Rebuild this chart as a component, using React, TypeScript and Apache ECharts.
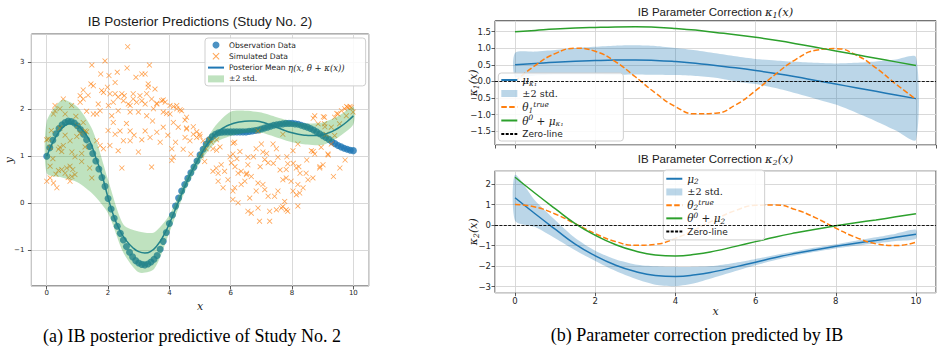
import React, { useEffect, useRef } from 'react';
import * as echarts from 'echarts';

// ---------- (a) Study No. 2 : observations, simulations, posterior ----------
const obsStep = 0.1;
const obsY = [
  1.0, 1.18, 1.34, 1.48, 1.59, 1.67, 1.72, 1.75, 1.74, 1.71,
  1.65, 1.57, 1.47, 1.35, 1.21, 1.06, 0.9, 0.73, 0.55, 0.36,
  0.1, -0.12, -0.32, -0.49, -0.64, -0.78, -0.92, -1.04, -1.14, -1.22,
  -1.27, -1.3, -1.31, -1.29, -1.25, -1.19, -1.11, -0.98, -0.81, -0.62,
  -0.43, -0.25, -0.06, 0.11, 0.26, 0.4, 0.53, 0.65, 0.77, 0.9,
  1.03, 1.15, 1.26, 1.35, 1.42, 1.47, 1.5, 1.51, 1.52, 1.52,
  1.52, 1.52, 1.52, 1.52, 1.52, 1.52, 1.53, 1.54, 1.55, 1.56,
  1.58, 1.6, 1.62, 1.64, 1.66, 1.67, 1.68, 1.69, 1.7, 1.7,
  1.7, 1.69, 1.68, 1.66, 1.64, 1.62, 1.59, 1.56, 1.52, 1.48,
  1.44, 1.4, 1.36, 1.31, 1.27, 1.23, 1.2, 1.17, 1.15, 1.13,
  1.12,
];

const simPoints: [number, number][] = [
  [2.64, 3.33], [1.9, 3.03], [1.47, 2.94], [2.62, 2.88], [3.35, 2.94], [1.76, 2.75], [2.03, 2.72],
  [2.3, 2.79], [2.91, 2.68], [3.1, 2.75], [3.21, 2.75], [1.44, 2.54], [1.52, 2.5], [2.23, 2.57],
  [1.98, 2.47], [3.31, 2.54], [3.31, 2.47], [1.19, 2.41], [1.09, 2.29], [1.19, 2.22], [1.79, 2.4],
  [1.85, 2.36], [2.06, 2.33], [2.23, 2.33], [2.45, 2.33], [2.33, 2.26], [2.53, 2.29], [2.82, 2.33],
  [3.04, 2.29], [3.26, 2.33], [3.53, 2.43], [2.82, 2.22], [2.5, 2.18], [2.66, 2.11], [2.72, 2.08],
  [2.93, 2.15], [3.1, 2.18], [3.21, 2.11], [3.42, 2.22], [3.59, 2.11], [3.75, 2.18], [3.86, 2.15],
  [4.02, 2.08], [4.24, 2.08], [2.17, 2.15], [2.01, 2.08], [1.68, 2.11], [1.74, 1.97], [1.52, 1.9],
  [1.63, 1.9], [1.3, 1.96], [1.09, 2.15], [0.81, 2.08], [0.27, 2.08], [0.22, 1.9], [0.54, 2.22],
  [2.33, 1.97], [2.12, 1.86], [2.72, 1.94], [2.99, 1.94], [3.26, 1.86], [3.48, 2.01], [3.8, 1.94],
  [4.02, 1.9], [4.24, 2.01], [4.4, 1.97], [4.56, 1.83], [2.17, 1.72], [2.39, 1.54], [2.23, 1.47],
  [2.72, 1.54], [3.21, 1.54], [3.59, 1.51], [3.37, 1.4], [3.8, 1.62], [4.13, 1.72], [4.29, 1.62],
  [4.56, 1.58], [4.78, 1.47], [4.89, 1.4], [4.51, 1.4], [4.67, 1.33], [1.63, 1.33], [1.74, 1.23],
  [1.85, 1.16], [2.06, 1.23], [2.33, 1.12], [2.5, 1.33], [2.99, 1.09], [2.72, 1.33], [4.08, 1.16],
  [4.13, 0.98], [1.19, 1.72], [1.25, 1.54], [0.05, 1.37], [0.11, 1.19], [0.43, 1.19], [0.54, 1.23],
  [0.76, 1.33], [0.82, 1.09], [0.27, 1.97], [0.43, 2.01],
  [0.0, 0.47], [0.11, 0.54], [0.22, 0.43], [0.33, 0.33], [0.49, 0.72], [0.65, 0.75], [0.76, 0.79],
  [0.82, 0.57], [0.76, 0.47], [0.92, 0.61], [0.6, 0.64], [0.11, 0.79], [1.47, 0.54], [2.45, 0.75],
  [3.42, 0.77], [4.08, 0.91], [1.14, 0.89],
  [0.0, 1.35], [0.43, 1.6], [0.6, 1.45], [0.98, 1.42], [0.49, 1.1], [0.38, 1.15], [0.92, 0.99],
  [1.09, 1.49], [1.3, 1.52], [1.25, 1.2], [1.14, 1.06],
  [3.59, 2.13], [3.8, 2.2], [3.91, 1.91], [4.13, 2.06], [4.35, 1.99], [4.51, 1.77], [4.56, 1.6],
  [4.78, 1.63], [4.89, 1.52], [5.0, 1.42], [5.32, 1.35], [5.54, 1.35], [6.08, 1.28], [6.3, 1.1],
  [5.54, 1.13], [8.69, 1.81], [9.02, 1.84], [9.07, 1.63], [9.46, 1.91], [9.78, 2.06], [9.89, 2.06],
  [4.99, 1.47], [5.1, 1.33], [5.2, 1.16], [5.04, 1.01], [5.37, 1.3], [5.42, 1.16], [6.13, 1.3],
  [6.07, 1.05], [6.83, 1.16], [7.0, 1.26], [7.05, 1.09], [7.38, 1.26], [7.49, 1.16], [7.54, 0.98],
  [7.7, 1.47], [6.89, 1.54], [8.19, 1.26], [8.03, 1.12], [8.63, 1.12], [8.74, 1.05], [8.74, 1.86],
  [8.85, 1.69], [9.06, 1.83], [9.06, 1.69], [9.11, 1.47], [9.28, 1.62], [9.39, 1.83], [9.5, 1.9],
  [9.55, 1.69], [9.61, 1.97], [9.72, 2.01], [9.82, 2.04], [9.93, 2.04], [9.99, 1.94], [9.77, 1.86],
  [9.28, 1.26], [9.39, 1.44], [8.95, 1.19], [9.17, 1.05], [6.56, 0.98], [6.2, 0.95],
  [5.15, 0.89], [5.42, 0.68], [5.53, 0.75], [5.69, 0.82], [5.8, 0.68], [5.91, 0.5], [5.75, 0.33],
  [6.02, 0.86], [6.07, 0.26], [6.07, 0.08], [6.24, 0.64], [6.34, 0.4], [6.46, 0.47], [6.56, 0.82],
  [6.62, 0.11], [6.67, 0.57], [6.56, -0.17], [6.67, -0.21], [6.89, -0.1], [6.94, -0.38], [6.89, 0.43],
  [6.83, 0.26], [7.05, 0.4], [7.11, 0.29], [7.22, 0.86], [7.27, -0.17], [7.27, -0.38], [7.22, 0.15],
  [7.43, 0.15], [7.54, 0.26], [7.49, -0.14], [7.65, -0.1], [7.7, -0.07], [7.81, -0.14], [7.86, -0.17],
  [7.76, 0.04], [7.7, 0.5], [7.81, 0.54], [7.97, 0.47], [8.03, 0.26], [8.14, 0.18], [8.19, 0.4],
  [8.25, 0.22], [8.19, -0.06], [8.36, 0.33], [8.14, 0.75], [8.22, 0.78], [8.46, 0.64], [8.52, 0.5],
  [8.68, 0.54], [8.9, 0.75], [9.01, 0.82], [7.81, 0.72], [7.86, 0.84], [7.11, 0.93], [6.34, 0.68],
  [6.51, 0.61], [5.59, 0.47], [5.59, 0.64], [6.13, 0.33], [6.24, 0.01],
  [5.65, 1.2], [5.98, 0.99], [6.14, 0.78], [6.52, 0.64], [6.74, 0.99], [6.96, 0.78], [7.17, 1.06],
  [7.39, 0.85], [7.61, 0.71], [7.83, 0.99], [8.04, 0.85], [8.26, 0.64], [8.48, 0.92], [8.69, 1.1],
  [8.91, 0.78], [9.18, 1.03], [9.35, 0.57], [9.56, 0.75], [9.73, 0.92],
  [0.3, 0.62], [0.38, 0.7], [0.7, 0.55], [0.85, 0.72], [1.4, 0.75], [0.6, 1.9], [0.95, 1.85],
  [1.0, 1.65], [0.15, 1.55], [0.2, 0.95], [1.35, 2.3], [2.0, 1.55], [2.6, 1.7], [2.85, 1.45],
  [3.1, 1.35], [3.45, 1.75], [3.7, 1.3], [3.95, 1.45], [4.2, 1.3], [4.45, 1.15], [4.7, 1.05],
];

const meanStep = 0.2;
const meanY = [
  1.0, 1.3, 1.52, 1.66, 1.7, 1.65, 1.53, 1.33, 0.97, 0.6,
  0.12, -0.3, -0.6, -0.8, -0.94, -1.03, -1.06, -1.02, -0.9, -0.7,
  -0.43, -0.12, 0.2, 0.5, 0.77, 1.0, 1.22, 1.4, 1.53, 1.62,
  1.68, 1.72, 1.74, 1.75, 1.75, 1.73, 1.69, 1.64, 1.59, 1.54,
  1.5, 1.47, 1.45, 1.44, 1.44, 1.46, 1.5, 1.56, 1.64, 1.74,
  1.86,
];

// ±2 std. envelope of the posterior mean, sampled every 0.5
const halfGrid = [0, 0.5, 1, 1.5, 2, 2.5, 3, 3.5, 4, 4.5, 5, 5.5, 6, 6.5, 7, 7.5, 8, 8.5, 9, 9.5, 10];
const bandUpA = [1.74, 2.2, 2.05, 1.55, 0.5, -0.45, -0.6, -0.62, -0.25, 0.48, 1.12, 1.65, 1.95, 1.97, 1.93, 1.83, 1.74, 1.7, 1.72, 1.85, 2.05];
const bandLoA = [0.64, 0.55, 0.45, 0.2, -0.21, -1.05, -1.47, -1.4, -0.62, 0.24, 0.88, 1.29, 1.43, 1.5, 1.5, 1.4, 1.3, 1.25, 1.24, 1.4, 1.68];

// ---------- (b) parameter corrections ----------
const k1Mu = [0.5, 0.54, 0.58, 0.61, 0.63, 0.645, 0.65, 0.635, 0.6, 0.55, 0.48, 0.41, 0.33, 0.24, 0.14, 0.03, -0.08, -0.19, -0.3, -0.41, -0.52];
const k1Up = [0.86, 0.9, 0.95, 1.01, 1.05, 1.08, 1.09, 1.07, 1.01, 0.94, 0.85, 0.76, 0.68, 0.63, 0.59, 0.56, 0.54, 0.56, 0.6, 0.66, 0.73];
const k1Lo = [0.14, 0.18, 0.21, 0.21, 0.21, 0.2, 0.21, 0.2, 0.19, 0.16, 0.11, 0.0, -0.08, -0.2, -0.36, -0.53, -0.7, -0.94, -1.2, -1.48, -1.77];
const k1True = [0.0, 0.48, 0.84, 1.0, 0.91, 0.6, 0.14, -0.35, -0.76, -0.98, -0.96, -0.71, -0.28, 0.22, 0.66, 0.94, 0.99, 0.8, 0.41, -0.08, -0.54];
const k1Theta = [1.5, 1.54, 1.58, 1.61, 1.63, 1.645, 1.65, 1.635, 1.6, 1.55, 1.48, 1.41, 1.33, 1.24, 1.14, 1.03, 0.92, 0.81, 0.7, 0.59, 0.48];

const k2Mu = [1.33, 0.55, -0.2, -0.93, -1.5, -1.95, -2.27, -2.46, -2.51, -2.43, -2.26, -2.04, -1.81, -1.58, -1.38, -1.2, -1.04, -0.89, -0.75, -0.6, -0.45];
const k2Up = [2.45, 1.2, 0.25, -0.63, -1.25, -1.67, -1.92, -2.01, -2.04, -2.03, -1.98, -1.84, -1.66, -1.46, -1.28, -1.1, -0.94, -0.77, -0.6, -0.42, -0.23];
const k2Lo = [0.21, -0.1, -0.65, -1.23, -1.75, -2.23, -2.62, -2.91, -2.98, -2.83, -2.54, -2.24, -1.96, -1.7, -1.48, -1.3, -1.14, -1.01, -0.9, -0.78, -0.67];
const k2True = [1.0, 0.88, 0.54, 0.07, -0.42, -0.8, -0.99, -0.94, -0.65, -0.21, 0.28, 0.71, 0.96, 0.98, 0.75, 0.35, -0.15, -0.6, -0.91, -1.0, -0.84];
const k2Theta = [2.33, 1.55, 0.8, 0.07, -0.5, -0.95, -1.27, -1.46, -1.51, -1.43, -1.26, -1.04, -0.81, -0.58, -0.38, -0.2, -0.04, 0.11, 0.25, 0.4, 0.55];

// ---------- styling ----------
const C0 = '#1f77b4';
const C1 = '#ff7f0e';
const C2 = '#2ca02c';
const GREEN_BAND = 'rgba(44,160,44,0.3)';
const BLUE_BAND = 'rgba(31,119,180,0.3)';
const SANS = 'DejaVu Sans';
const TITLE_FONT = 'Liberation Sans';
const MATH = 'DejaVu Serif';
const CAPTION = 'Liberation Serif';
const X_ICON = 'path://M1,0 L5,4 L9,0 L10,1 L6,5 L10,9 L9,10 L5,6 L1,10 L0,9 L4,5 L0,1 Z';

const minus = (s: string) => s.replace('-', '\u2212');
const fmtInt = (v: number) => minus(String(Math.round(v)));
const fmt1 = (v: number) => minus(v.toFixed(1));

const pairs = (xs: number[], ys: number[]) => xs.map((x, i) => [x, ys[i]]);
const stepPairs = (step: number, ys: number[]) => ys.map((y, i) => [+(i * step).toFixed(2), y]);

const legendText: Record<string, string> = {
  obs: 'Observation Data',
  sim: 'Simulated Data',
  mean: 'Posterior Mean {m|η(x, θ + κ(x))}',
  band0: '{r|±2 std.}',
  mu1: '{m|μ}{s|κ₁}',
  band1: '{r|±2 std.}',
  true1: '{m|θ}{s|1}{p|true}',
  theta1: '{m|θ}{p|0}{m| + μ}{s|κ₁}',
  zero1: 'Zero-line',
  mu2: '{m|μ}{s|2}',
  band2: '{r|±2 std.}',
  true2: '{m|θ}{s|2}{p|true}',
  theta2: '{m|θ}{p|0}{m| + μ}{s|2}',
  zero2: 'Zero-line',
};

const mathRich = (size: number, lh: number) => ({
  m: { fontFamily: MATH, fontStyle: 'italic', fontSize: size, lineHeight: lh },
  r: { fontFamily: MATH, fontSize: size - 0.8, lineHeight: lh },
  s: { fontFamily: MATH, fontStyle: 'italic', fontSize: size * 0.7, lineHeight: size * 0.7, verticalAlign: 'bottom' },
  p: { fontFamily: MATH, fontStyle: 'italic', fontSize: size * 0.7, lineHeight: size * 0.7, verticalAlign: 'top' },
});

function bandSeries(name: string, axis: number, xs: number[], lo: number[], hi: number[], color: string, z: number) {
  return {
    type: 'custom',
    name,
    xAxisIndex: axis,
    yAxisIndex: axis,
    z,
    silent: true,
    itemStyle: { color },
    data: xs.map((x, i) => [x, lo[i], hi[i]]),
    encode: { x: 0, y: [1, 2] },
    renderItem: (params: any, api: any) => {
      if (params.dataIndex !== 0) return null;
      const pts: number[][] = [];
      for (let i = 0; i < xs.length; i++) pts.push(api.coord([xs[i], hi[i]]));
      for (let i = xs.length - 1; i >= 0; i--) pts.push(api.coord([xs[i], lo[i]]));
      return { type: 'polygon', shape: { points: pts, smooth: 0.25 }, style: { fill: color } };
    },
  };
}

function lineSeries(name: string, axis: number, data: number[][], color: string, z: number, dashed = false) {
  return {
    type: 'line',
    name,
    xAxisIndex: axis,
    yAxisIndex: axis,
    z,
    data,
    smooth: true,
    symbol: 'none',
    silent: true,
    lineStyle: { color, width: 1.5, type: dashed ? [5.5, 2.4] : 'solid' },
    itemStyle: { color },
  };
}

function zeroSeries(name: string, axis: number) {
  return {
    type: 'line',
    name,
    xAxisIndex: axis,
    yAxisIndex: axis,
    z: 4,
    data: [],
    symbol: 'none',
    lineStyle: { color: '#000', width: 0.9, type: [3, 1.4] },
    itemStyle: { color: '#000' },
    markLine: {
      silent: true,
      symbol: ['none', 'none'],
      label: { show: false },
      lineStyle: { color: '#000', width: 0.9, type: [3, 1.4] },
      data: [{ yAxis: 0 }],
    },
  };
}

function xAxis(gridIndex: number, labelSize: number, showLabels: boolean, margin: number, nameGap: number) {
  return {
    type: 'value',
    gridIndex,
    min: -0.5,
    max: 10.5,
    splitNumber: 5,
    axisLine: { show: false, onZero: false },
    axisTick: { show: true, length: 3.5, lineStyle: { color: '#333', width: 0.8 } },
    axisLabel: {
      show: showLabels,
      showMinLabel: false,
      showMaxLabel: false,
      fontFamily: SANS,
      fontSize: labelSize,
      color: '#262626',
      margin,
      formatter: fmtInt,
    },
    splitLine: { show: true, lineStyle: { color: '#d5d5d5', width: 0.9 } },
    name: showLabels ? 'x' : '',
    nameLocation: 'middle',
    nameGap,
    nameMoveOverlap: false,
    nameTextStyle: { fontFamily: MATH, fontStyle: 'italic', fontSize: 11, color: '#222' },
  };
}

function yAxis(gridIndex: number, min: number, max: number, splitNumber: number, labelSize: number, fmt: (v: number) => string, name: string, nameGap: number, nameSize: number, margin: number) {
  return {
    type: 'value',
    gridIndex,
    min,
    max,
    splitNumber,
    axisLine: { show: false, onZero: false },
    axisTick: { show: true, length: 3.5, lineStyle: { color: '#333', width: 0.8 } },
    axisLabel: {
      showMinLabel: false,
      showMaxLabel: false,
      fontFamily: SANS,
      fontSize: labelSize,
      color: '#262626',
      margin,
      formatter: fmt,
    },
    splitLine: { show: true, lineStyle: { color: '#d5d5d5', width: 0.9 } },
    name,
    nameLocation: 'middle',
    nameGap,
    nameRotate: 90,
    nameMoveOverlap: false,
    nameTextStyle: {
      fontFamily: MATH,
      fontStyle: 'italic',
      fontSize: nameSize,
      color: '#222',
      rich: mathRich(nameSize, nameSize + 3),
    },
  };
}

function legend(left: number, top: number, names: any[], opts: any) {
  return {
    orient: 'vertical',
    left,
    top,
    selectedMode: false,
    backgroundColor: 'rgba(255,255,255,0.85)',
    borderColor: '#cfcfcf',
    borderWidth: 1,
    borderRadius: 3,
    data: names,
    formatter: (n: string) => legendText[n] ?? n,
    ...opts,
  };
}

// legend entry for a line series: keep the stroke, hide the marker glyph
const lineEntry = (name: string) => ({ name, itemStyle: { opacity: 0 } });

function buildOption() {
  const obsData = stepPairs(obsStep, obsY);
  const meanData = stepPairs(meanStep, meanY);

  return {
    animation: false,
    grid: [
      { left: 31.4, top: 34.1, width: 337.3, height: 251.9, show: true, borderColor: '#3a3a3a', borderWidth: 1, backgroundColor: 'transparent' },
      { left: 495, top: 20.8, width: 441, height: 124.2, show: true, borderColor: '#3a3a3a', borderWidth: 1, backgroundColor: 'transparent' },
      { left: 495, top: 170.7, width: 441, height: 122, show: true, borderColor: '#3a3a3a', borderWidth: 1, backgroundColor: 'transparent' },
    ],
    xAxis: [xAxis(0, 7, true, 3.5, 15), xAxis(1, 8.5, false, 4, 14), xAxis(2, 8.5, true, 4, 13)],
    yAxis: [
      yAxis(0, -1.76, 3.6, 5, 7, fmtInt, 'y', 16, 11, 7),
      yAxis(1, -1.92, 1.83, 7, 8.5, fmt1, '{m|κ}{s|1}{m|(x)}', 15, 11, 4),
      yAxis(2, -3.3, 2.65, 6, 8.5, fmtInt, '{m|κ}{s|2}{m|(x)}', 15, 11, 4),
    ],
    legend: [
      legend(205, 38, [
        { name: 'obs', icon: 'circle' },
        { name: 'sim', icon: X_ICON },
        lineEntry('mean'),
        { name: 'band0', icon: 'rect', itemStyle: { color: GREEN_BAND } },
      ], {
        padding: [1.5, 21, 1.5, 2],
        itemGap: 0.3,
        itemWidth: 16,
        itemHeight: 7,
        itemTextGap: 8,
        textStyle: { fontFamily: SANS, fontSize: 7.6, lineHeight: 11, color: '#222', rich: mathRich(8.5, 11) },
      }),
      legend(498.3, 73, [
        lineEntry('mu1'),
        { name: 'band1', icon: 'rect', itemStyle: { color: BLUE_BAND } },
        lineEntry('true1'),
        lineEntry('theta1'),
        lineEntry('zero1'),
      ], {
        padding: [0.5, 60, 0.5, 2],
        itemGap: 0.5,
        itemWidth: 16,
        itemHeight: 7,
        itemTextGap: 7,
        textStyle: { fontFamily: SANS, fontSize: 9, lineHeight: 13, color: '#222', rich: mathRich(10.5, 13) },
      }),
      legend(663.3, 170, [
        lineEntry('mu2'),
        { name: 'band2', icon: 'rect', itemStyle: { color: BLUE_BAND } },
        lineEntry('true2'),
        lineEntry('theta2'),
        lineEntry('zero2'),
      ], {
        padding: [2.4, 37, 2, 2],
        itemGap: 0.5,
        itemWidth: 16,
        itemHeight: 7,
        itemTextGap: 7,
        textStyle: { fontFamily: SANS, fontSize: 9, lineHeight: 12.7, color: '#222', rich: mathRich(10.5, 12.7) },
      }),
    ],
    series: [
      {
        type: 'scatter',
        name: 'obs',
        xAxisIndex: 0,
        yAxisIndex: 0,
        z: 2,
        symbol: 'circle',
        symbolSize: 7,
        itemStyle: { color: C0 },
        data: obsData,
        silent: true,
      },
      {
        type: 'scatter',
        name: 'sim',
        xAxisIndex: 0,
        yAxisIndex: 0,
        z: 3,
        symbol: X_ICON,
        symbolSize: 5.5,
        itemStyle: { color: C1, opacity: 0.7 },
        data: simPoints,
        silent: true,
      },
      lineSeries('mean', 0, meanData, C0, 4),
      bandSeries('band0', 0, halfGrid, bandLoA, bandUpA, GREEN_BAND, 5),

      bandSeries('band1', 1, halfGrid, k1Lo, k1Up, BLUE_BAND, 2),
      lineSeries('mu1', 1, pairs(halfGrid, k1Mu), C0, 3),
      lineSeries('true1', 1, pairs(halfGrid, k1True), C1, 3, true),
      lineSeries('theta1', 1, pairs(halfGrid, k1Theta), C2, 3),
      zeroSeries('zero1', 1),

      bandSeries('band2', 2, halfGrid, k2Lo, k2Up, BLUE_BAND, 2),
      lineSeries('mu2', 2, pairs(halfGrid, k2Mu), C0, 3),
      lineSeries('true2', 2, pairs(halfGrid, k2True), C1, 3, true),
      lineSeries('theta2', 2, pairs(halfGrid, k2Theta), C2, 3),
      zeroSeries('zero2', 2),
    ],
    graphic: [
      {
        type: 'text',
        x: 200,
        y: 21,
        style: {
          text: 'IB Posterior Predictions (Study No. 2)',
          fontFamily: TITLE_FONT,
          fontSize: 13.5,
          fill: '#1a1a1a',
          align: 'center',
          verticalAlign: 'middle',
        },
      },
      {
        type: 'text',
        x: 715.5,
        y: 12,
        style: {
          text: 'IB Parameter Correction {m|κ}{s|1}{m|(x)}',
          fontFamily: TITLE_FONT,
          fontSize: 11.5,
          fill: '#1a1a1a',
          align: 'center',
          verticalAlign: 'middle',
          rich: mathRich(11.5, 14),
        },
      },
      {
        type: 'text',
        x: 715.5,
        y: 159,
        style: {
          text: 'IB Parameter Correction {m|κ}{s|2}{m|(x)}',
          fontFamily: TITLE_FONT,
          fontSize: 11.5,
          fill: '#1a1a1a',
          align: 'center',
          verticalAlign: 'middle',
          rich: mathRich(11.5, 14),
        },
      },
      {
        type: 'text',
        x: 192,
        y: 336,
        style: {
          text: '(a) IB posterior predictive of Study No. 2',
          fontFamily: CAPTION,
          fontSize: 18,
          fill: '#000',
          align: 'center',
          verticalAlign: 'middle',
        },
      },
      {
        type: 'text',
        x: 697,
        y: 335,
        style: {
          text: '(b) Parameter correction predicted by IB',
          fontFamily: CAPTION,
          fontSize: 18,
          fill: '#000',
          align: 'center',
          verticalAlign: 'middle',
        },
      },
    ],
  };
}

export default function App() {
  const ref = useRef<HTMLDivElement>(null);
  useEffect(() => {
    document.body.style.margin = '0';
    if (!ref.current) return;
    const chart = echarts.init(ref.current, undefined, { renderer: 'svg' });
    chart.setOption(buildOption() as any);
    return () => chart.dispose();
  }, []);
  return <div ref={ref} style={{ width: 943, height: 361, background: '#fff' }} />;
}
